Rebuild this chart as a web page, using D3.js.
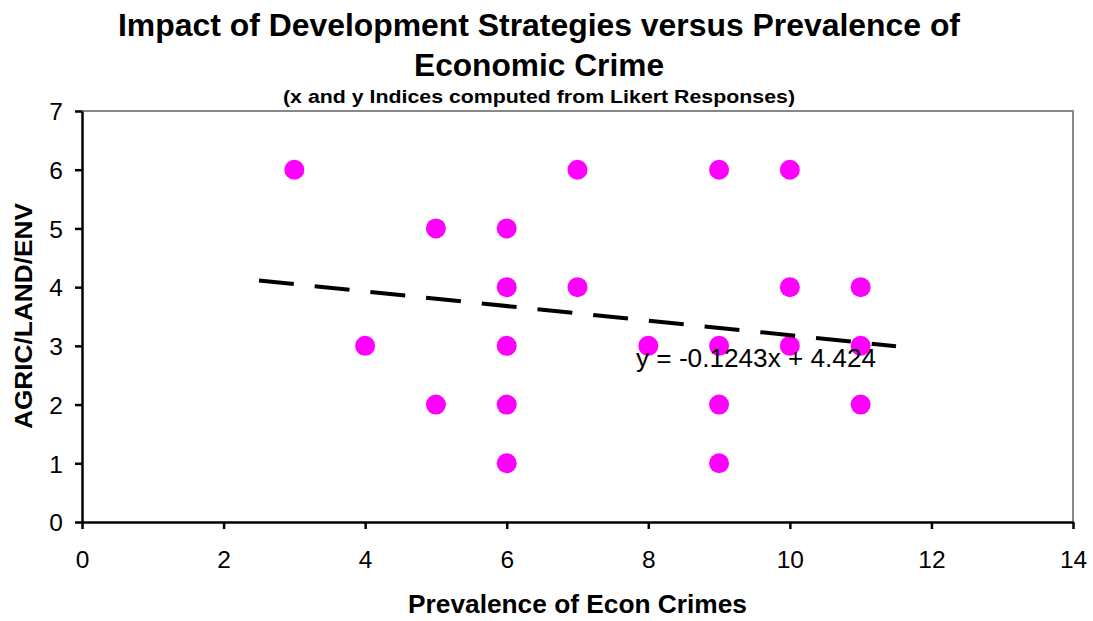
<!DOCTYPE html>
<html>
<head>
<meta charset="utf-8">
<script src="https://cdn.jsdelivr.net/npm/d3@7"></script>
<style>
  html, body { margin: 0; padding: 0; background: #fff; }
  svg { display: block; font-family: "Liberation Sans", Arial, Helvetica, sans-serif; }
</style>
</head>
<body>
<svg id="chart" width="1093" height="621"></svg>
<script>
// Survey indices: prevalence of economic crimes (x) vs AGRIC/LAND/ENV strategy index (y)
const xValues = [3, 4, 5, 5, 6, 6, 6, 6, 6, 7, 7, 8, 9, 9, 9, 9, 10, 10, 10, 11, 11, 11];
const yValues = [6, 3, 5, 2, 5, 4, 3, 2, 1, 6, 4, 3, 6, 3, 2, 1, 6, 4, 3, 4, 3, 2];
const xTicks = [0, 2, 4, 6, 8, 10, 12, 14];
const yTicks = [0, 1, 2, 3, 4, 5, 6, 7];
// Linear trend: y = slope * x + intercept, drawn over this x range
const trendSlope = -0.1243;
const trendIntercept = 4.424;
const trendRange = [2.5, 11.5];

const titleLines = ["Impact of Development Strategies versus Prevalence of", "Economic Crime"];
const subtitle = "(x and y Indices computed from Likert Responses)";
const xLabel = "Prevalence of Econ Crimes";
const yLabel = "AGRIC/LAND/ENV";

const svg = d3.select("#chart");
const plot = { left: 82, right: 1073, top: 111, bottom: 522 };

const x = d3.scaleLinear().domain([0, 14]).range([plot.left, plot.right]);
const y = d3.scaleLinear().domain([0, 7]).range([plot.bottom, plot.top]);

// Frame: top and right in grey
svg.append("path")
  .attr("d", `M${plot.left},${plot.top}H${plot.right}V${plot.bottom}`)
  .attr("fill", "none").attr("stroke", "#888").attr("stroke-width", 2);

// Axes
const xAxis = svg.append("g")
  .attr("transform", `translate(0,${plot.bottom})`)
  .call(d3.axisBottom(x).tickValues(xTicks).tickFormat(d3.format("d"))
    .tickSize(7).tickSizeOuter(0).tickPadding(22));
const yAxis = svg.append("g")
  .attr("transform", `translate(${plot.left},0)`)
  .call(d3.axisLeft(y).tickValues(yTicks).tickFormat(d3.format("d"))
    .tickSize(7).tickSizeOuter(0).tickPadding(12));

[xAxis, yAxis].forEach(g => {
  g.attr("font-size", null).attr("font-family", null);
  g.select(".domain").attr("stroke", "#000").attr("stroke-width", 2.5);
  g.selectAll(".tick line").attr("stroke", "#000").attr("stroke-width", 2.5);
  g.selectAll(".tick text")
    .attr("fill", "#000")
    .attr("font-size", 24.5);
});
yAxis.selectAll(".tick text").attr("dy", "0.36em");

// Data points
svg.append("g").selectAll("circle")
  .data(xValues.map((v, i) => [v, yValues[i]]))
  .join("circle")
  .attr("cx", d => x(d[0]))
  .attr("cy", d => y(d[1]))
  .attr("r", 10)
  .attr("fill", "#FF00FF");

// Trend line
svg.append("line")
  .attr("x1", x(trendRange[0])).attr("y1", y(trendSlope * trendRange[0] + trendIntercept))
  .attr("x2", x(trendRange[1])).attr("y2", y(trendSlope * trendRange[1] + trendIntercept))
  .attr("stroke", "#000").attr("stroke-width", 4)
  .attr("stroke-dasharray", "35,21");

svg.append("text")
  .attr("x", 636).attr("y", 367)
  .attr("font-size", 25.5)
  .attr("textLength", 240).attr("lengthAdjust", "spacingAndGlyphs")
  .text(`y = ${trendSlope}x + ${trendIntercept}`);

// Titles
const titleWidths = [842, 250];
titleLines.forEach((t, i) => {
  svg.append("text")
    .attr("x", 539).attr("y", 36 + i * 39.5)
    .attr("text-anchor", "middle")
    .attr("font-size", 31).attr("font-weight", "bold")
    .attr("textLength", titleWidths[i]).attr("lengthAdjust", "spacingAndGlyphs")
    .text(t);
});
svg.append("text")
  .attr("x", 539).attr("y", 103)
  .attr("text-anchor", "middle")
  .attr("font-size", 19).attr("font-weight", "bold")
  .attr("textLength", 512).attr("lengthAdjust", "spacingAndGlyphs")
  .text(subtitle);

// Axis titles
svg.append("text")
  .attr("x", 577.5).attr("y", 613)
  .attr("text-anchor", "middle")
  .attr("font-size", 26.5).attr("font-weight", "bold")
  .attr("textLength", 339).attr("lengthAdjust", "spacingAndGlyphs")
  .text(xLabel);
svg.append("text")
  .attr("transform", `translate(32,316) rotate(-90)`)
  .attr("text-anchor", "middle")
  .attr("font-size", 24.5).attr("font-weight", "bold")
  .attr("textLength", 226).attr("lengthAdjust", "spacingAndGlyphs")
  .text(yLabel);
</script>
</body>
</html>
